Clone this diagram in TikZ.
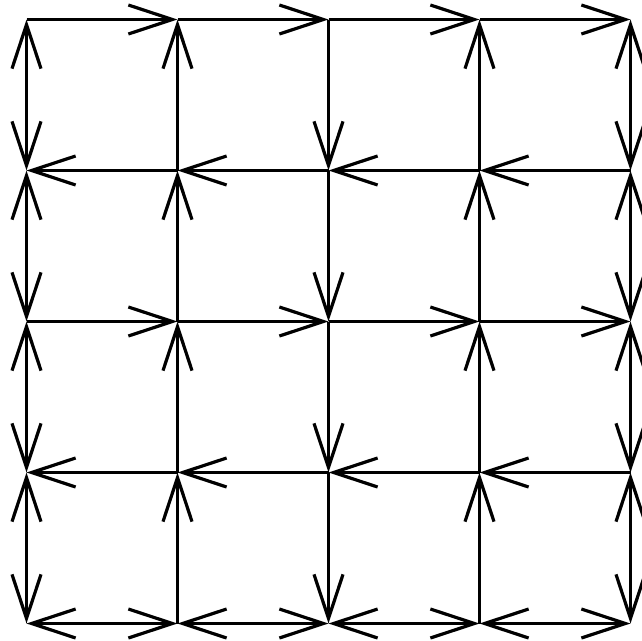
\documentclass[tikz,border=0pt]{standalone}
\usetikzlibrary{arrows.meta}
\begin{document}
\begin{tikzpicture}[x=1pt,y=-1pt,
  edge/.style={line width=2.8pt, draw=black},
  tipa/.tip={Straight Barb[length=44pt,width=29pt,line width=3.2pt]},
  fwd/.style={edge,-{tipa}},
  both/.style={edge,{tipa}-{tipa}}]
\useasboundingbox (0,0) rectangle (642,640);
\foreach \i in {0,...,4}
  \foreach \j in {0,...,4}
    \coordinate (n\i\j) at ({26.5+151*\i},{19.5+151*\j});
% horizontal edges
\foreach \i [evaluate=\i as \k using int(\i+1)] in {0,...,3} {
  \draw[fwd] (n\i0) -- (n\k0);
  \draw[fwd] (n\k1) -- (n\i1);
  \draw[fwd] (n\i2) -- (n\k2);
  \draw[fwd] (n\k3) -- (n\i3);
  \draw[both] (n\i4) -- (n\k4);
}
% vertical edges
\foreach \j [evaluate=\j as \k using int(\j+1)] in {0,...,3} {
  \draw[both] (n0\j) -- (n0\k);
  \draw[fwd] (n1\k) -- (n1\j);
  \draw[fwd] (n2\j) -- (n2\k);
  \draw[fwd] (n3\k) -- (n3\j);
  \draw[both] (n4\j) -- (n4\k);
}
\end{tikzpicture}
\end{document}
